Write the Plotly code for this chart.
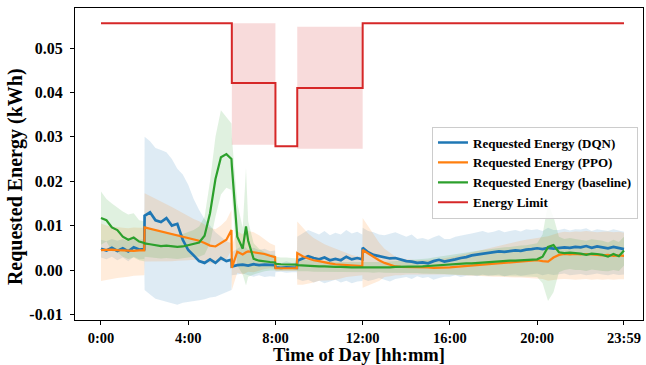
import plotly.graph_objects as go

# Time axis in minutes after midnight: a 15-minute grid plus the minutes just
# before each step change so that jumps are drawn as vertical edges.
minutes = sorted(set(range(0, 1440, 15)) | {119, 359, 399, 479, 539, 719, 1439})

# Mean requested energy per policy (kWh); rows are hours 0..23
dqn_mean = [
    0.0048, 0.0044, 0.0050, 0.0043,
    0.0049, 0.0042, 0.0051, 0.0046, 0.0047,
    0.0122, 0.0130, 0.0112, 0.0108,
    0.0117, 0.0100, 0.0104, 0.0068,
    0.0045, 0.0033, 0.0020, 0.0016,
    0.0024, 0.0016, 0.0027, 0.0020, 0.0023,
    0.0008, 0.0011, 0.0012, 0.0011, 0.0010,
    0.0013, 0.0011, 0.0012, 0.0011, 0.0011,
    0.0006, 0.0005, 0.0006, 0.0005, 0.0005,
    0.0021, 0.0026, 0.0031, 0.0027,
    0.0024, 0.0028, 0.0022, 0.0025,
    0.0022, 0.0030, 0.0024, 0.0027, 0.0024,
    0.0050, 0.0040, 0.0034, 0.0031,
    0.0028, 0.0026, 0.0027, 0.0024,
    0.0020, 0.0019, 0.0016, 0.0017,
    0.0015, 0.0020, 0.0023, 0.0019,
    0.0021, 0.0024, 0.0027, 0.0029,
    0.0033, 0.0035, 0.0037, 0.0039,
    0.0040, 0.0042, 0.0041, 0.0043,
    0.0044, 0.0043, 0.0046, 0.0047,
    0.0049, 0.0047, 0.0050, 0.0048,
    0.0049, 0.0051, 0.0050, 0.0052,
    0.0051, 0.0054, 0.0050, 0.0053,
    0.0051, 0.0049, 0.0052, 0.0050, 0.0047,
]
dqn_upper = [
    0.0068, 0.0065, 0.0070, 0.0066,
    0.0070, 0.0064, 0.0072, 0.0068, 0.0069,
    0.0300, 0.0290, 0.0275, 0.0270,
    0.0265, 0.0250, 0.0228, 0.0215,
    0.0192, 0.0160, 0.0135, 0.0115,
    0.0100, 0.0085, 0.0075, 0.0065, 0.0060,
    0.0040, 0.0048, 0.0055, 0.0050, 0.0045,
    0.0050, 0.0045, 0.0048, 0.0042, 0.0044,
    0.0018, 0.0015, 0.0020, 0.0016, 0.0017,
    0.0075, 0.0082, 0.0090, 0.0085,
    0.0080, 0.0088, 0.0078, 0.0084,
    0.0080, 0.0090, 0.0082, 0.0086, 0.0080,
    0.0095, 0.0088, 0.0085, 0.0080,
    0.0078, 0.0082, 0.0085, 0.0080,
    0.0075, 0.0080, 0.0070, 0.0072,
    0.0068, 0.0074, 0.0078, 0.0070,
    0.0070, 0.0075, 0.0078, 0.0080,
    0.0082, 0.0085, 0.0088, 0.0084,
    0.0086, 0.0090, 0.0085, 0.0088,
    0.0090, 0.0087, 0.0092, 0.0090,
    0.0092, 0.0088, 0.0095, 0.0090,
    0.0090, 0.0093, 0.0089, 0.0092,
    0.0091, 0.0094, 0.0088, 0.0092,
    0.0090, 0.0088, 0.0092, 0.0089, 0.0086,
]
dqn_lower = [
    0.0028, 0.0024, 0.0030, 0.0022,
    0.0028, 0.0020, 0.0030, 0.0024, 0.0025,
    -0.0045, -0.0055, -0.0065, -0.0068,
    -0.0072, -0.0075, -0.0078, -0.0074,
    -0.0072, -0.0070, -0.0068, -0.0066,
    -0.0062, -0.0060, -0.0055, -0.0050, -0.0045,
    -0.0012, -0.0010, -0.0008, -0.0010, -0.0012,
    -0.0015, -0.0012, -0.0016, -0.0014, -0.0015,
    -0.0005, -0.0004, -0.0006, -0.0005, -0.0005,
    -0.0020, -0.0025, -0.0022, -0.0028,
    -0.0024, -0.0030, -0.0026, -0.0022,
    -0.0028, -0.0024, -0.0030, -0.0026, -0.0025,
    -0.0020, -0.0025, -0.0022, -0.0018,
    -0.0022, -0.0026, -0.0020, -0.0018,
    -0.0016, -0.0020, -0.0014, -0.0018,
    -0.0016, -0.0022, -0.0018, -0.0015,
    -0.0015, -0.0012, -0.0016, -0.0013,
    -0.0012, -0.0014, -0.0010, -0.0013,
    -0.0012, -0.0010, -0.0014, -0.0011,
    -0.0010, -0.0013, -0.0011, -0.0010,
    -0.0008, -0.0012, -0.0009, -0.0011,
    -0.0010, -0.0008, -0.0012, -0.0010,
    -0.0009, -0.0012, -0.0010, -0.0008,
    -0.0010, -0.0012, -0.0009, -0.0011, -0.0010,
]

ppo_mean = [
    0.0045, 0.0046, 0.0046, 0.0045,
    0.0044, 0.0043, 0.0043, 0.0044, 0.0044,
    0.0096, 0.0093, 0.0090, 0.0087,
    0.0084, 0.0081, 0.0078, 0.0075,
    0.0072, 0.0069, 0.0066, 0.0061,
    0.0055, 0.0053, 0.0060, 0.0068, 0.0090,
    0.0005, 0.0041, 0.0035, 0.0040, 0.0042,
    0.0040, 0.0038, 0.0036, 0.0032, 0.0029,
    0.0004, 0.0004, 0.0004, 0.0004, 0.0004,
    0.0038, 0.0031, 0.0026, 0.0022,
    0.0020, 0.0017, 0.0015, 0.0013,
    0.0012, 0.0011, 0.0010, 0.0009, 0.0009,
    0.0045, 0.0037, 0.0030, 0.0022,
    0.0016, 0.0012, 0.0008, 0.0007,
    0.0007, 0.0007, 0.0006, 0.0006,
    0.0006, 0.0005, 0.0005, 0.0005,
    0.0006, 0.0007, 0.0008, 0.0008,
    0.0009, 0.0010, 0.0011, 0.0012,
    0.0013, 0.0014, 0.0015, 0.0016,
    0.0017, 0.0018, 0.0019, 0.0021,
    0.0022, 0.0020, 0.0019, 0.0028,
    0.0034, 0.0036, 0.0035, 0.0036,
    0.0035, 0.0036, 0.0035, 0.0033,
    0.0033, 0.0034, 0.0032, 0.0033, 0.0032,
]
ppo_upper = [
    0.0105, 0.0100, 0.0098, 0.0096,
    0.0095, 0.0094, 0.0096, 0.0095, 0.0095,
    0.0173, 0.0167, 0.0160, 0.0154,
    0.0148, 0.0142, 0.0135, 0.0128,
    0.0122, 0.0115, 0.0110, 0.0102,
    0.0095, 0.0092, 0.0100, 0.0112, 0.0135,
    0.0055, 0.0088, 0.0080, 0.0090, 0.0088,
    0.0085, 0.0078, 0.0070, 0.0060, 0.0055,
    0.0010, 0.0010, 0.0011, 0.0010, 0.0010,
    0.0109, 0.0095, 0.0082, 0.0072,
    0.0064, 0.0058, 0.0053, 0.0048,
    0.0043, 0.0038, 0.0034, 0.0031, 0.0030,
    0.0117, 0.0098, 0.0080, 0.0062,
    0.0048, 0.0038, 0.0030, 0.0026,
    0.0024, 0.0023, 0.0022, 0.0022,
    0.0022, 0.0023, 0.0024, 0.0026,
    0.0028, 0.0031, 0.0034, 0.0037,
    0.0040, 0.0043, 0.0046, 0.0049,
    0.0052, 0.0055, 0.0058, 0.0061,
    0.0063, 0.0066, 0.0068, 0.0070,
    0.0072, 0.0074, 0.0076, 0.0080,
    0.0084, 0.0086, 0.0085, 0.0087,
    0.0086, 0.0088, 0.0087, 0.0085,
    0.0086, 0.0087, 0.0085, 0.0086, 0.0084,
]
ppo_lower = [
    -0.0025, -0.0022, -0.0020, -0.0018,
    -0.0016, -0.0015, -0.0013, -0.0012, -0.0012,
    0.0019, 0.0019, 0.0020, 0.0020,
    0.0020, 0.0020, 0.0021, 0.0022,
    0.0022, 0.0023, 0.0022, 0.0020,
    0.0015, 0.0014, 0.0020, 0.0024, 0.0045,
    -0.0045, -0.0006, -0.0010, -0.0006, -0.0004,
    -0.0005, -0.0002, 0.0002, 0.0004, 0.0003,
    -0.0002, -0.0002, -0.0002, -0.0002, -0.0002,
    -0.0033, -0.0033, -0.0030, -0.0028,
    -0.0024, -0.0024, -0.0023, -0.0022,
    -0.0019, -0.0016, -0.0014, -0.0013, -0.0012,
    -0.0040, -0.0035, -0.0030, -0.0025,
    -0.0016, -0.0014, -0.0012, -0.0012,
    -0.0010, -0.0010, -0.0010, -0.0010,
    -0.0010, -0.0010, -0.0010, -0.0010,
    -0.0010, -0.0011, -0.0012, -0.0012,
    -0.0013, -0.0013, -0.0014, -0.0014,
    -0.0015, -0.0015, -0.0016, -0.0016,
    -0.0017, -0.0017, -0.0018, -0.0018,
    -0.0019, -0.0020, -0.0024, -0.0022,
    -0.0021, -0.0020, -0.0021, -0.0022,
    -0.0021, -0.0020, -0.0022, -0.0021,
    -0.0022, -0.0021, -0.0022, -0.0021, -0.0021,
]

baseline_mean = [
    0.0117, 0.0112, 0.0096, 0.0090,
    0.0075, 0.0068, 0.0073, 0.0064, 0.0061,
    0.0060, 0.0058, 0.0056, 0.0054,
    0.0055, 0.0053, 0.0052, 0.0053,
    0.0056, 0.0059, 0.0062, 0.0077,
    0.0128, 0.0205, 0.0254, 0.0261, 0.0250,
    0.0235, 0.0075, 0.0048, 0.0098, 0.0066,
    0.0025, 0.0021, 0.0019, 0.0018, 0.0017,
    0.0014, 0.0013, 0.0013, 0.0012, 0.0012,
    0.0011, 0.0010, 0.0009, 0.0009,
    0.0008, 0.0008, 0.0007, 0.0007,
    0.0007, 0.0006, 0.0006, 0.0006, 0.0006,
    0.0006, 0.0006, 0.0005, 0.0006,
    0.0006, 0.0006, 0.0007, 0.0007,
    0.0007, 0.0007, 0.0008, 0.0008,
    0.0009, 0.0010, 0.0011, 0.0012,
    0.0012, 0.0013, 0.0014, 0.0015,
    0.0015, 0.0016, 0.0017, 0.0018,
    0.0019, 0.0019, 0.0020, 0.0021,
    0.0021, 0.0022, 0.0023, 0.0023,
    0.0024, 0.0030, 0.0052, 0.0056,
    0.0040, 0.0038, 0.0039, 0.0038,
    0.0037, 0.0034, 0.0037, 0.0036,
    0.0034, 0.0030, 0.0036, 0.0031, 0.0044,
]
baseline_upper = [
    0.0177, 0.0160, 0.0150, 0.0140,
    0.0132, 0.0125, 0.0128, 0.0112, 0.0110,
    0.0100, 0.0094, 0.0090, 0.0086,
    0.0084, 0.0082, 0.0080, 0.0081,
    0.0085, 0.0090, 0.0098, 0.0120,
    0.0200, 0.0300, 0.0360, 0.0345, 0.0330,
    0.0300, 0.0150, 0.0095, 0.0230, 0.0110,
    0.0060, 0.0048, 0.0040, 0.0036, 0.0034,
    0.0030, 0.0028, 0.0028, 0.0027, 0.0027,
    0.0026, 0.0024, 0.0022, 0.0022,
    0.0020, 0.0020, 0.0019, 0.0019,
    0.0018, 0.0018, 0.0018, 0.0017, 0.0017,
    0.0017, 0.0018, 0.0017, 0.0018,
    0.0018, 0.0019, 0.0020, 0.0020,
    0.0021, 0.0022, 0.0023, 0.0024,
    0.0026, 0.0028, 0.0030, 0.0032,
    0.0034, 0.0036, 0.0038, 0.0040,
    0.0041, 0.0043, 0.0045, 0.0046,
    0.0048, 0.0049, 0.0051, 0.0052,
    0.0054, 0.0055, 0.0056, 0.0058,
    0.0060, 0.0080, 0.0150, 0.0120,
    0.0075, 0.0070, 0.0072, 0.0070,
    0.0068, 0.0066, 0.0069, 0.0067,
    0.0066, 0.0062, 0.0068, 0.0063, 0.0075,
]
baseline_lower = [
    0.0057, 0.0064, 0.0042, 0.0040,
    0.0030, 0.0025, 0.0028, 0.0022, 0.0020,
    0.0030, 0.0028, 0.0027, 0.0026,
    0.0027, 0.0026, 0.0025, 0.0026,
    0.0028, 0.0030, 0.0030, 0.0035,
    0.0060, 0.0120, 0.0170, 0.0185, 0.0180,
    0.0170, 0.0010, -0.0010, -0.0035, -0.0015,
    -0.0010, -0.0006, -0.0003, -0.0001, 0.0000,
    0.0000, 0.0000, -0.0001, -0.0001, -0.0001,
    -0.0003, -0.0003, -0.0003, -0.0004,
    -0.0004, -0.0004, -0.0005, -0.0005,
    -0.0005, -0.0005, -0.0005, -0.0005, -0.0005,
    -0.0005, -0.0005, -0.0006, -0.0005,
    -0.0006, -0.0006, -0.0006, -0.0006,
    -0.0007, -0.0007, -0.0007, -0.0008,
    -0.0008, -0.0008, -0.0009, -0.0009,
    -0.0010, -0.0010, -0.0011, -0.0011,
    -0.0012, -0.0012, -0.0012, -0.0013,
    -0.0013, -0.0013, -0.0014, -0.0014,
    -0.0014, -0.0015, -0.0015, -0.0015,
    -0.0016, -0.0030, -0.0070, -0.0050,
    -0.0005, 0.0000, 0.0002, 0.0000,
    0.0000, -0.0002, 0.0001, -0.0001,
    -0.0002, -0.0003, 0.0000, -0.0002, 0.0010,
]

# Energy limit: step function (value holds until the next change)
limit_minutes = [0, 360, 480, 540, 720, 1439]
limit_values = [0.0556, 0.0421, 0.0279, 0.0410, 0.0556, 0.0556]

# Limit bands around the reduced-limit windows: (start, end, low, high)
limit_bands = [
    (360, 480, 0.0282, 0.0556),
    (540, 720, 0.0273, 0.0548),
]

xtick_minutes = [0, 240, 480, 720, 960, 1200, 1439]
xtick_labels = ["0:00", "4:00", "8:00", "12:00", "16:00", "20:00", "23:59"]
ytick_values = [-0.01, 0.0, 0.01, 0.02, 0.03, 0.04, 0.05]
ytick_labels = ["-0.01", "0.00", "0.01", "0.02", "0.03", "0.04", "0.05"]

for arr in (dqn_mean, dqn_upper, dqn_lower, ppo_mean, ppo_upper, ppo_lower,
            baseline_mean, baseline_upper, baseline_lower):
    assert len(arr) == len(minutes)

BLUE, ORANGE, GREEN, RED = "#1f77b4", "#ff7f0e", "#2ca02c", "#d62728"
SERIF = "Liberation Serif"

series = [
    ("Requested Energy (DQN)", dqn_mean, dqn_upper, dqn_lower, BLUE,
     "rgba(31,119,180,0.15)", 2.7),
    ("Requested Energy (PPO)", ppo_mean, ppo_upper, ppo_lower, ORANGE,
     "rgba(255,127,14,0.15)", 2.2),
    ("Requested Energy (baseline)", baseline_mean, baseline_upper, baseline_lower,
     GREEN, "rgba(44,160,44,0.15)", 2.2),
]

fig = go.Figure()

# Shaded variability bands
for name, mean, upper, lower, color, fill, width in series:
    fig.add_trace(go.Scatter(
        x=minutes + minutes[::-1], y=upper + lower[::-1],
        fill="toself", fillcolor=fill, line=dict(width=0),
        mode="lines", showlegend=False, hoverinfo="skip"))

# Mean curves
for name, mean, upper, lower, color, fill, width in series:
    fig.add_trace(go.Scatter(
        x=minutes, y=mean, mode="lines", name=name,
        line=dict(color=color, width=width)))

# Limit bands
for start, end, low, high in limit_bands:
    fig.add_trace(go.Scatter(
        x=[start, end, end, start, start], y=[low, low, high, high, low],
        fill="toself", fillcolor="rgba(214,39,40,0.17)", line=dict(width=0),
        mode="lines", showlegend=False, hoverinfo="skip"))

fig.add_trace(go.Scatter(
    x=limit_minutes, y=limit_values, mode="lines", name="Energy Limit",
    line=dict(color=RED, width=2, shape="hv")))

axis_common = dict(
    showline=True, linecolor="black", linewidth=1.3, mirror=True,
    ticks="outside", ticklen=4, tickwidth=1.2, tickcolor="black",
    showgrid=False, zeroline=False, automargin=False,
)

fig.update_layout(
    width=646, height=365,
    margin=dict(l=75, r=3, t=8, b=45),
    paper_bgcolor="white", plot_bgcolor="white",
    xaxis=dict(
        range=[-71.5, 1491.3], tickmode="array",
        tickvals=xtick_minutes, ticktext=xtick_labels,
        tickfont=dict(family=SERIF, size=14.5, color="black", weight="bold"),
        title=dict(text="Time of Day [hh:mm]", standoff=6,
                   font=dict(family=SERIF, size=18.5, color="black", weight="bold")),
        **axis_common),
    yaxis=dict(
        range=[-0.01126, 0.05901], tickmode="array",
        tickvals=ytick_values, ticktext=ytick_labels,
        ticklabelstandoff=4,
        tickfont=dict(family=SERIF, size=16, color="black", weight="bold"),
        **axis_common),
    legend=dict(
        x=0.6285, y=0.62, xanchor="left", yanchor="top",
        bgcolor="rgba(255,255,255,0.85)", bordercolor="#cccccc", borderwidth=1,
        font=dict(family=SERIF, size=13, color="black", weight="bold"),
        tracegroupgap=0,
    ),
    annotations=[dict(
        text="Requested Energy (kWh)", textangle=-90,
        xref="paper", yref="paper", x=0, y=0.458,
        xanchor="center", yanchor="middle", xshift=-60, showarrow=False,
        font=dict(family=SERIF, size=20, color="black", weight="bold"),
    )],
)

fig.write_html("out.html")
